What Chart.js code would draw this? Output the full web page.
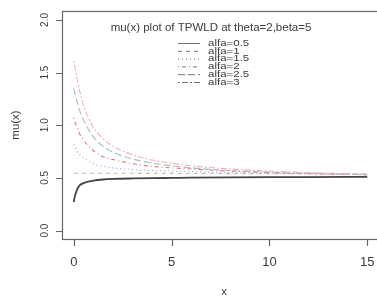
<!DOCTYPE html>
<html>
<head>
<meta charset="utf-8">
<script src="https://cdn.jsdelivr.net/npm/chart.js@4/dist/chart.umd.min.js"></script>
<style>
  html, body { margin: 0; padding: 0; background: #fff; overflow: hidden; }
  canvas { display: block; }
</style>
</head>
<body>
<canvas id="muChart" width="380" height="297"></canvas>
<script>
// values
const xs = [0, 0.05, 0.15, 0.3, 0.5, 0.75, 1, 1.5, 2, 3, 4, 5, 6, 8, 10, 12, 15];
const alfaLabels = ['alfa=0.5', 'alfa=1', 'alfa=1.5', 'alfa=2', 'alfa=2.5', 'alfa=3'];
const mu05 = [0.27, 0.32, 0.38, 0.43, 0.45, 0.465, 0.475, 0.485, 0.49, 0.495, 0.498, 0.5, 0.502, 0.505, 0.507, 0.508, 0.51];
const mu1  = [0.545, 0.545, 0.545, 0.545, 0.545, 0.545, 0.545, 0.545, 0.545, 0.544, 0.543, 0.543, 0.542, 0.541, 0.54, 0.54, 0.539];
const mu15 = [0.82, 0.80, 0.76, 0.72, 0.69, 0.66, 0.635, 0.61, 0.595, 0.58, 0.57, 0.565, 0.56, 0.55, 0.545, 0.54, 0.53];
const mu2  = [1.07, 1.04, 0.99, 0.92, 0.86, 0.80, 0.76, 0.70, 0.675, 0.635, 0.61, 0.595, 0.585, 0.565, 0.55, 0.54, 0.53];
const mu25 = [1.35, 1.31, 1.24, 1.14, 1.05, 0.96, 0.89, 0.80, 0.745, 0.68, 0.64, 0.615, 0.595, 0.57, 0.555, 0.545, 0.53];
const mu3  = [1.61, 1.56, 1.46, 1.33, 1.19, 1.07, 0.98, 0.87, 0.80, 0.72, 0.67, 0.64, 0.615, 0.585, 0.565, 0.55, 0.535];
const xTicks = [0, 5, 10, 15];
const yTicks = [0, 0.5, 1, 1.5, 2];

const series = [mu05, mu1, mu15, mu2, mu25, mu3];
const colors = ['#444444', '#c4bdb0', '#8a9ad8', '#e07474', '#a3c2bd', '#f4b0ba'];
const dashes = [[], [4, 4], [1, 3], [1, 3, 4, 3], [7, 3], [2, 2, 6, 2]];
const widths = [1.8, 1.1, 1.1, 1.1, 1.1, 1.1];

const datasets = series.map((vals, i) => ({
    label: alfaLabels[i],
    data: xs.map((x, j) => ({ x: x, y: vals[j] })),
    borderColor: colors[i],
    borderDash: dashes[i],
    borderWidth: widths[i],
    pointRadius: 0,
    cubicInterpolationMode: 'monotone',
    fill: false,
    order: 6 - i
}));

const axisGray = '#666';
const textGray = '#3c3c3c';
const fontFam = '"Liberation Sans", Arial, sans-serif';

// box, tick marks, tick labels, titles and legend in R style
const rDecor = {
    id: 'rDecor',
    afterDraw(chart) {
        const ctx = chart.ctx;
        const a = chart.chartArea;
        const xsc = chart.scales.x;
        const ysc = chart.scales.y;
        ctx.save();
        ctx.strokeStyle = axisGray;
        ctx.lineWidth = 1.2;
        ctx.strokeRect(a.left + 0.5, a.top + 0.5, a.right - a.left, a.bottom - a.top);

        ctx.beginPath();
        xTicks.forEach(v => {
            const px = Math.round(xsc.getPixelForValue(v)) + 0.5;
            ctx.moveTo(px, a.bottom);
            ctx.lineTo(px, a.bottom + 7);
        });
        yTicks.forEach(v => {
            const py = Math.round(ysc.getPixelForValue(v)) + 0.5;
            ctx.moveTo(a.left, py);
            ctx.lineTo(a.left - 6, py);
        });
        ctx.stroke();

        ctx.fillStyle = textGray;
        ctx.textAlign = 'center';
        ctx.textBaseline = 'middle';

        ctx.font = '13px ' + fontFam;
        xTicks.forEach(v => {
            ctx.fillText(String(v), xsc.getPixelForValue(v), 262);
        });

        ctx.font = '10px ' + fontFam;
        yTicks.forEach(v => {
            const py = ysc.getPixelForValue(v);
            ctx.save();
            ctx.translate(45, py);
            ctx.rotate(-Math.PI / 2);
            ctx.fillText(v.toFixed(1), 0, 0);
            ctx.restore();
        });

        // axis titles
        ctx.save();
        ctx.translate(16, 125);
        ctx.rotate(-Math.PI / 2);
        ctx.font = '11.5px ' + fontFam;
        ctx.fillText('mu(x)', 0, 0);
        ctx.restore();
        ctx.font = '11.5px ' + fontFam;
        ctx.fillText('x', 224, 292);

        // legend
        ctx.font = '11.5px ' + fontFam;
        ctx.fillText('mu(x) plot of TPWLD at theta=2,beta=5', 211, 28);
        ctx.textAlign = 'left';
        alfaLabels.forEach((lab, i) => {
            const ly = 43.5 + i * 7.8;
            ctx.strokeStyle = '#777';
            ctx.lineWidth = 1;
            ctx.setLineDash(dashes[i]);
            ctx.beginPath();
            ctx.moveTo(178, ly);
            ctx.lineTo(200, ly);
            ctx.stroke();
            ctx.setLineDash([]);
            ctx.save();
            ctx.translate(208, ly);
            ctx.scale(1, 0.72);
            ctx.fillText(lab, 0, 0);
            ctx.restore();
        });
        ctx.restore();
    }
};

const chart = new Chart(document.getElementById('muChart'), {
    type: 'line',
    data: { datasets: datasets },
    options: {
        responsive: false,
        animation: false,
        devicePixelRatio: 1,
        layout: { padding: { top: 11, right: 1, left: 0, bottom: 0 } },
        plugins: {
            legend: { display: false },
            tooltip: { enabled: false }
        },
        scales: {
            x: {
                type: 'linear',
                min: -0.6,
                max: 15.6,
                afterFit: s => { s.height = 58; },
                afterBuildTicks: s => { s.ticks = xTicks.map(v => ({ value: v })); },
                border: { display: false },
                grid: { display: false },
                ticks: { display: false }
            },
            y: {
                type: 'linear',
                min: -0.08,
                max: 2.085,
                afterFit: s => { s.width = 62; },
                afterBuildTicks: s => { s.ticks = yTicks.map(v => ({ value: v })); },
                border: { display: false },
                grid: { display: false },
                ticks: { display: false }
            }
        }
    },
    plugins: [rDecor]
});
</script>
</body>
</html>
